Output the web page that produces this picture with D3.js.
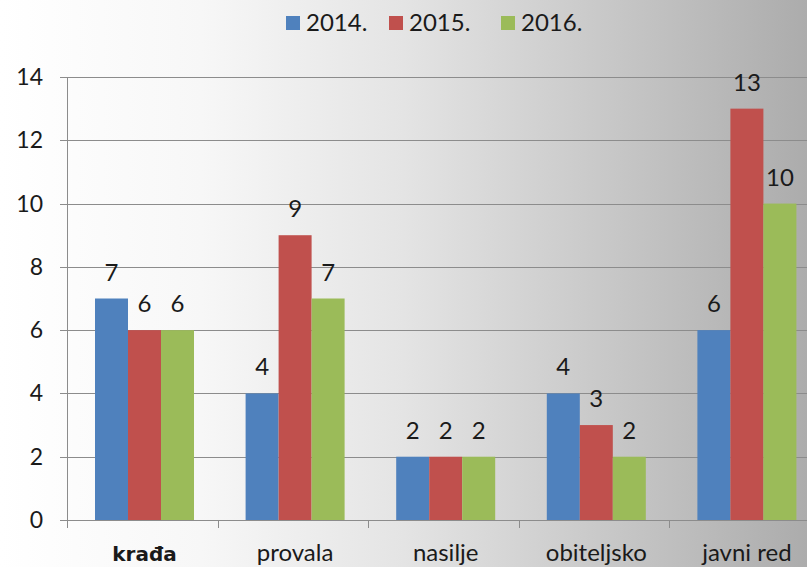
<!DOCTYPE html>
<html>
<head>
<meta charset="utf-8">
<script src="https://cdn.jsdelivr.net/npm/d3@7"></script>
<style>
  body { margin: 0; }
  text { font-family: Lato, "Open Sans", sans-serif; fill: #1a1a1a; }
</style>
</head>
<body>
<div id="chart"></div>
<script>
// categories and series
var categories = ["krađa", "provala", "nasilje", "obiteljsko", "javni red"];
var years = ["2014.", "2015.", "2016."];
var v2014 = [7, 4, 2, 4, 6];
var v2015 = [6, 9, 2, 3, 13];
var v2016 = [6, 7, 2, 2, 10];
var yTicks = [0, 2, 4, 6, 8, 10, 12, 14];
var colors = ["#4f81bd", "#c0504d", "#9bbb59"];

function init() {
    var w = 807, h = 567;
    var series = [v2014, v2015, v2016];

    var svg = d3.select("#chart").append("svg")
        .attr("width", w)
        .attr("height", h);

    // background gradient, white on the left to grey on the right
    var grad = svg.append("defs").append("linearGradient")
        .attr("id", "bg")
        .attr("x1", "0%").attr("y1", "0%")
        .attr("x2", "100%").attr("y2", "0%");
    grad.append("stop").attr("offset", "0%").attr("stop-color", "#ffffff");
    grad.append("stop").attr("offset", "25%").attr("stop-color", "#f7f7f7");
    grad.append("stop").attr("offset", "50%").attr("stop-color", "#e4e4e4");
    grad.append("stop").attr("offset", "75%").attr("stop-color", "#c8c8c8");
    grad.append("stop").attr("offset", "100%").attr("stop-color", "#acacac");
    svg.append("rect").attr("width", w).attr("height", h).attr("fill", "url(#bg)");

    var x = d3.scaleBand()
        .domain(categories)
        .range([67, 820])
        .paddingInner(0)
        .paddingOuter(0);

    var inner = d3.scaleBand()
        .domain(years)
        .range([28, 28 + 99]);

    var y = d3.scaleLinear()
        .domain([0, 14])
        .range([520, 77]);

    // gridlines
    svg.append("g")
        .selectAll("line")
        .data(yTicks)
        .enter()
        .append("line")
        .attr("x1", 60)
        .attr("x2", w)
        .attr("y1", function (d) { return Math.round(y(d)) + 0.5; })
        .attr("y2", function (d) { return Math.round(y(d)) + 0.5; })
        .attr("stroke", "#8c8c8c")
        .attr("stroke-width", 1);

    // y axis line
    svg.append("line")
        .attr("x1", 67.5).attr("x2", 67.5)
        .attr("y1", y(14)).attr("y2", y(0))
        .attr("stroke", "#8c8c8c");

    // x ticks
    svg.append("g")
        .selectAll("line")
        .data(categories)
        .enter()
        .append("line")
        .attr("x1", function (d) { return Math.round(x(d)) + 0.5; })
        .attr("x2", function (d) { return Math.round(x(d)) + 0.5; })
        .attr("y1", y(0))
        .attr("y2", y(0) + 8)
        .attr("stroke", "#8c8c8c");

    // y labels
    svg.append("g")
        .selectAll("text")
        .data(yTicks)
        .enter()
        .append("text")
        .attr("x", 43)
        .attr("y", function (d) { return y(d) + 8; })
        .attr("text-anchor", "end")
        .style("font-size", "23px")
        .text(function (d) { return d; });

    // category labels (the first one is set in a different, heavier face)
    svg.append("g")
        .selectAll("text")
        .data(categories)
        .enter()
        .append("text")
        .attr("x", function (d) { return x(d) + 28 + 49.5; })
        .attr("y", 561)
        .attr("text-anchor", "middle")
        .style("font-size", function (d, i) { return i === 0 ? "20px" : "24px"; })
        .style("font-family", function (d, i) { return i === 0 ? "'DejaVu Sans'" : null; })
        .style("font-weight", function (d, i) { return i === 0 ? "bold" : "normal"; })
        .text(function (d) { return d; });

    // bars and value labels
    series.forEach(function (vals, s) {
        var g = svg.append("g");
        g.selectAll("rect")
            .data(vals)
            .enter()
            .append("rect")
            .attr("x", function (d, i) { return x(categories[i]) + inner(years[s]); })
            .attr("y", function (d) { return y(d); })
            .attr("width", inner.bandwidth())
            .attr("height", function (d) { return y(0) - y(d); })
            .attr("fill", colors[s]);

        g.selectAll("text")
            .data(vals)
            .enter()
            .append("text")
            .attr("x", function (d, i) { return x(categories[i]) + inner(years[s]) + inner.bandwidth() / 2; })
            .attr("y", function (d) { return y(d) - 18; })
            .attr("text-anchor", "middle")
            .style("font-size", "24px")
            .text(function (d) { return d; });
    });

    // legend
    var legendX = [286, 389, 501];
    var legend = svg.append("g");
    years.forEach(function (yr, i) {
        legend.append("rect")
            .attr("x", legendX[i])
            .attr("y", 16)
            .attr("width", 14)
            .attr("height", 14)
            .attr("fill", colors[i]);
        legend.append("text")
            .attr("x", legendX[i] + 20)
            .attr("y", 31)
            .style("font-size", "24px")
            .text(yr);
    });
}

window.onload = init;
</script>
</body>
</html>
